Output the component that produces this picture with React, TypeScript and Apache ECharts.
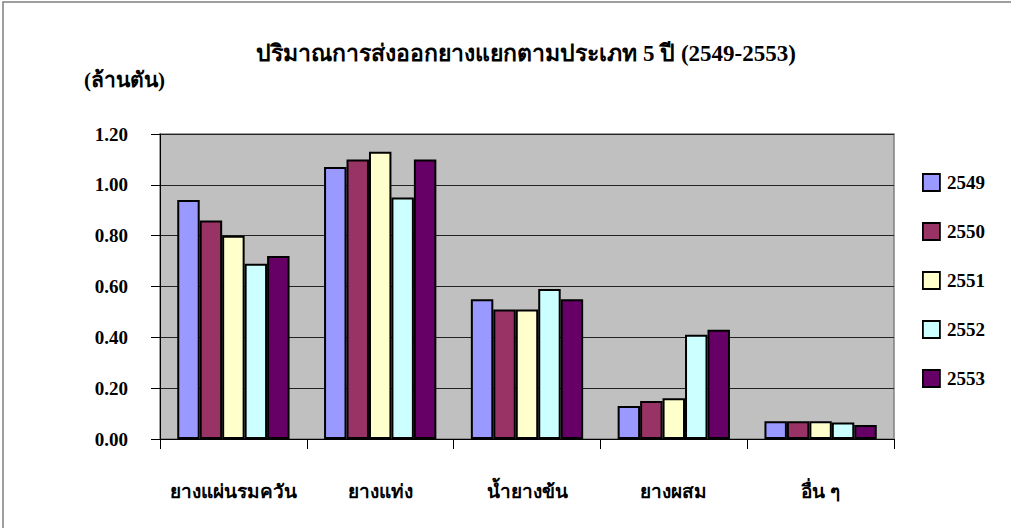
import React, { useEffect, useRef } from "react";
import * as echarts from "echarts";

const categories = ["ยางแผ่นรมควัน", "ยางแท่ง", "น้ำยางข้น", "ยางผสม", "อื่น ๆ"];
const years = ["2549", "2550", "2551", "2552", "2553"];
const v2549 = [0.94, 1.07, 0.55, 0.13, 0.07];
const v2550 = [0.86, 1.1, 0.51, 0.15, 0.07];
const v2551 = [0.8, 1.13, 0.51, 0.16, 0.07];
const v2552 = [0.69, 0.95, 0.59, 0.41, 0.065];
const v2553 = [0.72, 1.1, 0.55, 0.43, 0.055];
const yTicks = { min: 0, max: 1.2, interval: 0.2 };
const titleText = "ปริมาณการส่งออกยางแยกตามประเภท 5 ปี (2549-2553)";
const unitText = "(ล้านตัน)";

const colors = ["#9999FF", "#993366", "#FFFFCC", "#CCFFFF", "#660066"];
const FONT = "'Liberation Serif', 'Times New Roman', serif";

export default function App() {
  const ref = useRef<HTMLDivElement>(null);
  useEffect(() => {
    document.body.style.margin = "0";
    const chart = echarts.init(ref.current!, null, { renderer: "svg" });
    const values = [v2549, v2550, v2551, v2552, v2553];
    chart.setOption({
      animation: false,
      backgroundColor: "#ffffff",
      title: {
        text: titleText,
        left: 521,
        textAlign: "center",
        top: 37,
        textStyle: { fontFamily: FONT, fontWeight: "bold", fontSize: 23, color: "#000" },
      },
      graphic: [
        {
          type: "rect",
          shape: { x: 3, y: 2, width: 1100, height: 600 },
          style: { fill: "none", stroke: "#808080", lineWidth: 1.5 },
          silent: true,
        },
        {
          type: "text",
          left: 84,
          top: 69,
          style: { text: unitText, font: `bold 21px ${FONT}`, fill: "#000" },
        },
      ],
      legend: {
        orient: "vertical",
        left: 917,
        top: 168,
        itemWidth: 17,
        itemHeight: 17,
        itemGap: 30,
        icon: "rect",
        data: years,
        textStyle: { fontFamily: FONT, fontWeight: "bold", fontSize: 19, color: "#000", padding: [0, 0, 0, 2] },
        itemStyle: { borderColor: "#000", borderWidth: 1.8 },
      },
      grid: {
        left: 160,
        right: 117,
        top: 134,
        bottom: 89,
        show: true,
        backgroundColor: "#C0C0C0",
        borderColor: "#808080",
        borderWidth: 1.5,
      },
      xAxis: {
        type: "category",
        data: categories,
        axisLine: { lineStyle: { color: "#000", width: 1 } },
        axisTick: { show: true, length: 10, lineStyle: { color: "#000" } },
        axisLabel: {
          interval: 0,
          margin: 43,
          fontFamily: FONT,
          fontWeight: "bold",
          fontSize: 19,
          color: "#000",
        },
      },
      yAxis: {
        type: "value",
        min: yTicks.min,
        max: yTicks.max,
        interval: yTicks.interval,
        axisLine: { show: true, lineStyle: { color: "#000", width: 1 } },
        axisTick: { show: true, length: 9, lineStyle: { color: "#000" } },
        axisLabel: {
          margin: 32,
          fontFamily: FONT,
          fontWeight: "bold",
          fontSize: 19,
          color: "#000",
          formatter: (v: number) => v.toFixed(2),
        },
        splitLine: { show: true, lineStyle: { color: "#222", width: 1 } },
      },
      series: years.map((y, i) => ({
        name: y,
        type: "bar",
        data: values[i],
        barGap: "0%",
        barCategoryGap: "23.5%",
        itemStyle: { color: colors[i], borderColor: "#000", borderWidth: 2 },
      })),
    });
    return () => chart.dispose();
  }, []);
  return <div ref={ref} style={{ width: 1011, height: 528 }} />;
}
